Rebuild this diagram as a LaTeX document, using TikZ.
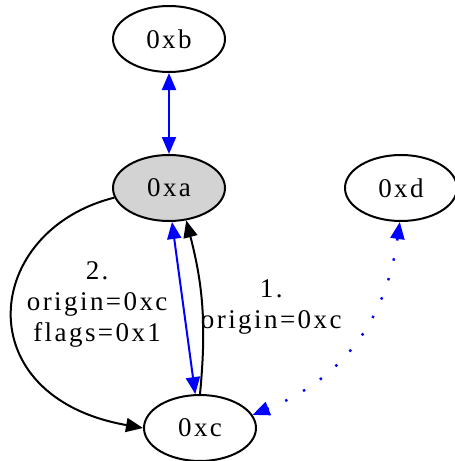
\documentclass[tikz,border=0pt]{standalone}
\usepackage{fontspec}
\setmainfont{Liberation Serif}[LetterSpace=9]
\usepackage{tikz}
\usetikzlibrary{positioning,arrows.meta,shapes.geometric}
\definecolor{nodegray}{RGB}{211,211,211}

\begin{document}
\begin{tikzpicture}[
    ell/.style={draw, ellipse, line width=1pt, minimum width=56pt, minimum height=33pt, inner sep=1pt},
    lbl/.style={align=center, inner sep=2pt},
    >={Triangle[length=8.5pt,width=7pt]},
    font=\fontsize{13.5pt}{15.5pt}\selectfont]
  \useasboundingbox (-84.5pt,19.5pt) rectangle (143pt,-211pt);
  % nodes
  \node[ell] (b) at (0,0) {0xb};
  \node[ell, fill=nodegray, below=40.5pt of b] (a) {0xa};
  \node[ell, right=59pt of a] (d) {0xd};
  \node[ell, below=86pt of a, xshift=15.5pt] (c) {0xc};

  % edges
  \draw[<->, blue, line width=1pt] (b) -- (a);
  \draw[->, line width=1pt] (a.190) .. controls +(194:68pt) and +(170:90pt) .. (c.west)
    node[lbl, pos=0.47, right=4.5pt] (l2) {2.\\origin=0xc\\flags=0x1};
  \draw[<->, blue, line width=1pt] (c.98) -- (a.-85);
  \draw[->, line width=1pt] (c.north) to[bend right=10] node[lbl, right=-3pt] (l1) {1.\\origin=0xc} (a.-62);
  \draw[<->, blue, line width=1.2pt, dash pattern=on 1.2pt off 9pt] (d.-92) .. controls +(-98:46pt) and +(22:52pt) .. (c.14);
\end{tikzpicture}
\end{document}
